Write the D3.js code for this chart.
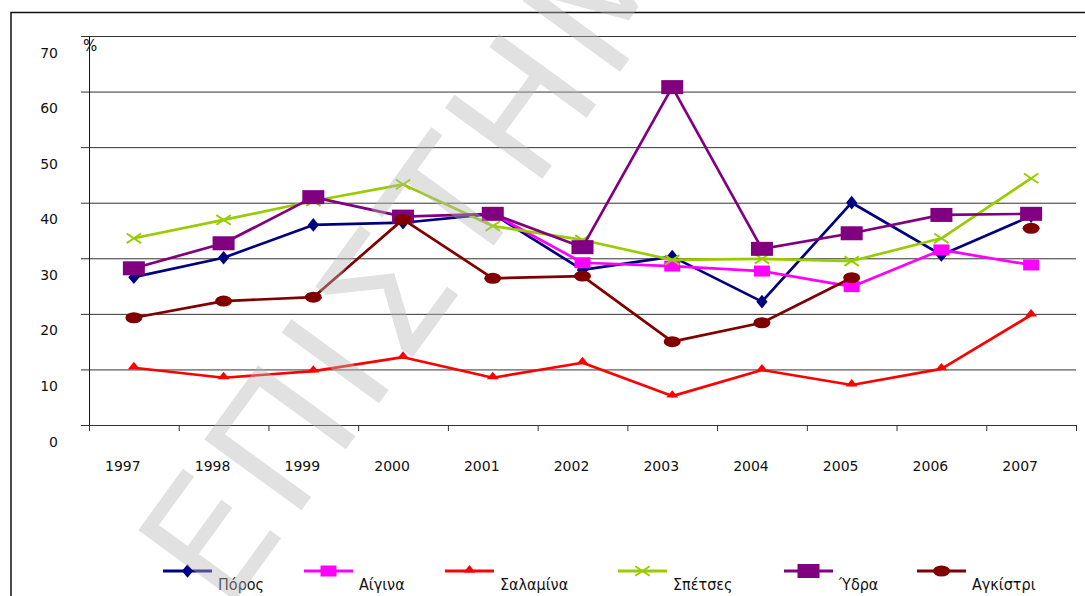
<!DOCTYPE html>
<html lang="el">
<head>
  <meta charset="UTF-8">
  <title>Chart</title>
  <style>
    body { margin: 0; background: #fff; }
    svg { display: block; font-family: "DejaVu Sans", sans-serif; }
  </style>
</head>
<body>

  <svg id="svg" width="1085" height="596"></svg>

  <script src="https://cdn.jsdelivr.net/npm/d3@7"></script>
  <script>
    // data
    const years = ['1997', '1998', '1999', '2000', '2001', '2002', '2003', '2004', '2005', '2006', '2007'];
    const poros    = [26.6, 30.1, 36.0, 36.4, 38.0, 27.9, 30.3, 22.2, 40.0, 30.6, 37.6];
    const aigina   = [null, null, null, null, 38.0, 29.2, 28.6, 27.7, 24.9, 31.5, 28.8];
    const salamina = [10.3, 8.5, 9.7, 12.2, 8.5, 11.2, 5.2, 9.9, 7.2, 10.1, 19.8];
    const spetses  = [33.6, 36.9, 40.3, 43.3, 35.8, 33.3, 29.7, 29.9, 29.5, 33.6, 44.4];
    const ydra     = [28.2, 32.7, 41.0, 37.5, 38.0, 32.0, 60.8, 31.7, 34.5, 37.8, 38.0];
    const agkistri = [19.3, 22.3, 23.0, 37.0, 26.4, 26.8, 15.0, 18.4, 26.5, null, 35.4];
    const yTicks = [0, 10, 20, 30, 40, 50, 60, 70];

    const series = [
      { name: 'Πόρος',    values: poros,    color: '#000080', mark: 'diamond' },
      { name: 'Αίγινα',   values: aigina,   color: '#ff00ff', mark: 'square' },
      { name: 'Σαλαμίνα', values: salamina, color: '#ff0000', mark: 'triangle' },
      { name: 'Σπέτσες',  values: spetses,  color: '#99cc00', mark: 'cross' },
      { name: 'Ύδρα',     values: ydra,     color: '#800080', mark: 'bigsquare' },
      { name: 'Αγκίστρι', values: agkistri, color: '#800000', mark: 'circle' }
    ];

    const svg = d3.select('#svg');

    const x = d3.scaleBand().domain(years).range([89, 1076]);
    const y = d3.scaleLinear().domain([0, 70]).range([425, 36]);
    const cx = d => x(d) + x.bandwidth() / 2;

    // outer frame
    svg.append('rect')
      .attr('x', 11).attr('y', 12.5)
      .attr('width', 1100).attr('height', 600)
      .attr('fill', 'none').attr('stroke', '#111').attr('stroke-width', 1.5);

    // horizontal grid + y labels
    const yAxis = svg.append('g')
      .attr('transform', 'translate(81,0)')
      .call(d3.axisLeft(y).tickValues(yTicks).tickSize(-(1076 - 81)).tickPadding(0));
    yAxis.select('.domain').remove();
    yAxis.selectAll('.tick line').attr('stroke', '#333').attr('stroke-width', 1);
    yAxis.selectAll('.tick text')
      .attr('x', -23).attr('dy', 21)
      .attr('font-size', 14).attr('font-family', '"DejaVu Sans", sans-serif')
      .attr('fill', '#111');

    // vertical axis line
    svg.append('line')
      .attr('x1', 89.5).attr('x2', 89.5)
      .attr('y1', y(70)).attr('y2', y(0) + 6)
      .attr('stroke', '#111');

    svg.append('text')
      .attr('x', 83).attr('y', 51)
      .attr('font-size', 15).attr('fill', '#111')
      .text('%');

    // x labels
    const xAxis = svg.append('g')
      .attr('transform', `translate(0,${y(0)})`)
      .call(d3.axisBottom(x).tickSize(0));
    xAxis.select('.domain').remove();
    xAxis.selectAll('.tick text')
      .attr('y', 46).attr('dy', 0).attr('dx', -11)
      .attr('font-size', 14).attr('font-family', '"DejaVu Sans", sans-serif')
      .attr('fill', '#111');

    // category boundary ticks
    const bounds = years.map(d => x(d)).concat([x.range()[1]]);
    svg.append('g').selectAll('line')
      .data(bounds)
      .enter()
      .append('line')
      .attr('x1', d => d + 0.5).attr('x2', d => d + 0.5)
      .attr('y1', y(0)).attr('y2', y(0) + 6)
      .attr('stroke', '#333');

    // markers
    function marker(g, type, color, px, py) {
      let shape;
      if (type === 'diamond') {
        shape = g.append('path').attr('d', d3.symbol(d3.symbolDiamond, 60)())
          .attr('transform', `translate(${px},${py}) scale(1.35,0.95)`).attr('fill', color);
      } else if (type === 'square') {
        shape = g.append('rect').attr('x', px - 8).attr('y', py - 5.5)
          .attr('width', 16).attr('height', 11).attr('fill', color);
      } else if (type === 'bigsquare') {
        shape = g.append('rect').attr('x', px - 11).attr('y', py - 7)
          .attr('width', 22).attr('height', 14).attr('fill', color);
      } else if (type === 'triangle') {
        shape = g.append('path').attr('d', d3.symbol(d3.symbolTriangle, 32)())
          .attr('transform', `translate(${px},${py - 1}) scale(1.4,1)`).attr('fill', color);
      } else if (type === 'cross') {
        shape = g.append('path').attr('d', 'M-6,-4L6,4M-6,4L6,-4')
          .attr('transform', `translate(${px},${py}) scale(1.2,1.2)`)
          .attr('stroke', color).attr('stroke-width', 1.6).attr('fill', 'none');
      } else {
        shape = g.append('ellipse').attr('cx', px).attr('cy', py)
          .attr('rx', 8.5).attr('ry', 5.5).attr('fill', color);
      }
      return shape;
    }

    const line = d3.line()
      .defined(d => d.v != null)
      .x(d => cx(d.year))
      .y(d => y(d.v));

    series.forEach(s => {
      const pts = years.map((yr, i) => ({ year: yr, v: s.values[i] }));
      const g = svg.append('g');
      g.append('path')
        .datum(pts)
        .attr('d', line)
        .attr('fill', 'none')
        .attr('stroke', s.color)
        .attr('stroke-width', 2.7)
        .attr('stroke-linejoin', 'round');
      pts.filter(p => p.v != null).forEach(p => marker(g, s.mark, s.color, cx(p.year), y(p.v)));
    });

    // legend
    const legendLineX = [163, 304, 445, 618, 784, 917];
    const legend = svg.append('g');
    series.forEach((s, i) => {
      const lx = legendLineX[i];
      legend.append('line')
        .attr('x1', lx).attr('x2', lx + 49)
        .attr('y1', 571).attr('y2', 571)
        .attr('stroke', s.color).attr('stroke-width', 3);
      marker(legend, s.mark, s.color, lx + 24.5, 571);
      legend.append('text')
        .attr('x', lx + 55).attr('y', 590)
        .attr('font-size', 16)
        .attr('font-family', '"DejaVu Sans Condensed", "DejaVu Sans", sans-serif')
        .attr('fill', '#111')
        .text(s.name);
    });

    // watermark
    svg.append('text')
      .attr('transform', 'translate(226,614) rotate(-54)')
      .attr('font-size', 165)
      .attr('font-family', '"DejaVu Sans", sans-serif')
      .attr('fill', '#b8b8b8')
      .attr('opacity', 0.42)
      .attr('letter-spacing', 8)
      .text('ΕΠΙΣΤΗΜΗ');
  </script>
</body>
</html>
